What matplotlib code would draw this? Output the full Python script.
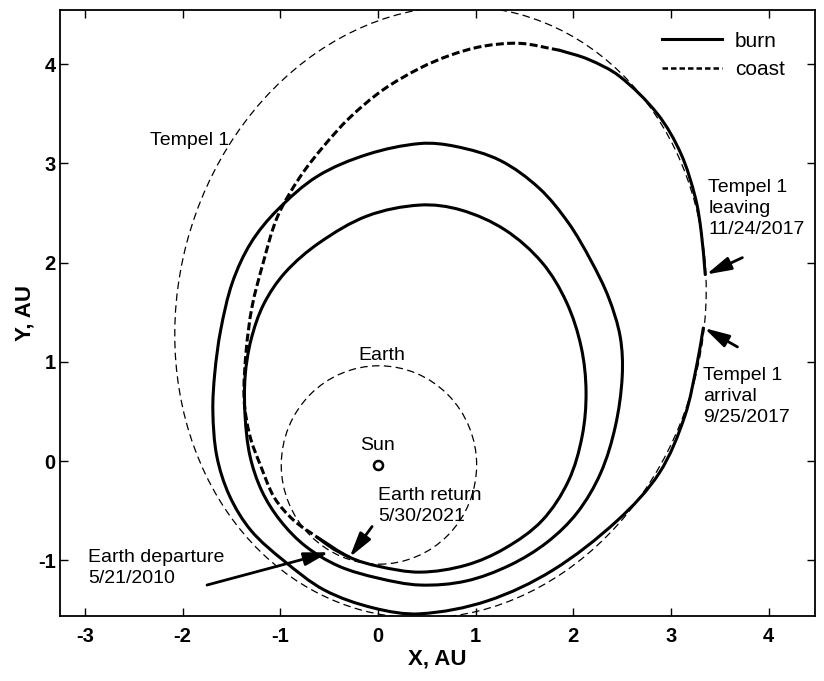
import numpy as np
import matplotlib
matplotlib.use("Agg")
import matplotlib.pyplot as plt
from matplotlib.path import Path
from matplotlib.patches import PathPatch, Ellipse, Circle
from matplotlib.lines import Line2D

plt.rcParams['font.family'] = ['Liberation Sans', 'DejaVu Sans']
plt.rcParams['axes.unicode_minus'] = False

# outbound spiral, Earth departure -> Tempel 1 arrival (burn)
burn_out_x = [-0.62, -0.29, 0.00, 0.43, 0.90, 1.30, 1.68, 1.95, 2.09, 2.13, 2.08, 1.93, 1.68, 1.30,
              0.85, 0.43, -0.11, -0.60, -0.95, -1.17, -1.30, -1.36, -1.36,
              -1.31, -1.19, -1.00, -0.74, -0.40, 0.00, 0.43, 0.90, 1.35, 1.73, 2.04, 2.28, 2.43, 2.50,
              2.48, 2.36, 2.18, 1.95, 1.65, 1.25, 0.80, 0.43, -0.11, -0.62, -1.03, -1.30, -1.49, -1.61,
              -1.67, -1.69, -1.65, -1.52, -1.30, -0.97, -0.55, -0.05, 0.43, 1.12, 1.79, 2.45, 2.88,
              3.14, 3.27, 3.33]
burn_out_y = [-0.77, -0.97, -1.06, -1.12, -1.05, -0.88, -0.60, -0.20, 0.25, 0.70, 1.15, 1.60, 2.00, 2.33,
              2.53, 2.58, 2.47, 2.20, 1.90, 1.58, 1.22, 0.85, 0.45,
              0.05, -0.30, -0.60, -0.86, -1.06, -1.18, -1.25, -1.21, -1.05, -0.82, -0.52, -0.12, 0.35, 0.85,
              1.25, 1.65, 2.02, 2.40, 2.75, 3.03, 3.17, 3.20, 3.09, 2.87, 2.53, 2.20, 1.80, 1.32,
              0.89, 0.50, 0.05, -0.35, -0.70, -1.00, -1.30, -1.48, -1.54, -1.41, -1.10, -0.60, -0.12,
              0.45, 1.00, 1.34]

# after leaving Tempel 1 (burn)
burn_leave_x = [3.35, 3.31, 3.25, 3.10, 2.86, 2.47, 2.15, 1.86]
burn_leave_y = [1.88, 2.30, 2.65, 3.10, 3.50, 3.88, 4.05, 4.14]

# long coast back towards Earth
coast_x = [1.86, 1.45, 1.07, 0.74, 0.43, 0.05, -0.29, -0.55, -0.80, -1.03, -1.18, -1.29, -1.35,
           -1.37, -1.31, -1.20, -1.06, -0.86, -0.62]
coast_y = [4.14, 4.21, 4.18, 4.09, 3.96, 3.74, 3.46, 3.18, 2.86, 2.46, 1.98, 1.55, 1.10,
           0.62, 0.25, -0.05, -0.37, -0.60, -0.77]

# final burn to Earth return
burn_ret_x = [-0.62, -0.45, -0.29]
burn_ret_y = [-0.77, -0.89, -0.97]

# planet / comet orbits
earth_center = (0.01, -0.04)
earth_radius = 1.0
tempel_center = (0.64, 1.50)
tempel_semi_axes = (3.11, 2.69)
tempel_tilt = 75.0
sun_xy = (0.0, -0.04)


def smooth_path(xs, ys):
    # cubic Bezier through the points, tangents from the neighbours
    pts = np.column_stack([xs, ys]).astype(float)
    n = len(pts)
    tang = np.zeros_like(pts)
    for i in range(n):
        d = pts[min(i + 1, n - 1)] - pts[max(i - 1, 0)]
        tang[i] = d / np.hypot(*d)
    verts = [pts[0]]
    codes = [Path.MOVETO]
    for i in range(n - 1):
        seg = np.hypot(*(pts[i + 1] - pts[i])) / 3.0
        verts += [pts[i] + tang[i] * seg, pts[i + 1] - tang[i + 1] * seg, pts[i + 1]]
        codes += [Path.CURVE4] * 3
    return Path(verts, codes)


fig = plt.figure(figsize=(8.24, 6.81), dpi=100)
ax = fig.add_axes([0.0728, 0.0954, 0.9162, 0.8899])

thin_dash = (0, (6, 3.5))
thick_dash = (0, (2.6, 1.1))

ax.add_patch(Circle(earth_center, earth_radius, fill=False, ec='black', lw=0.9,
                    ls=thin_dash, zorder=2))
ax.add_patch(Ellipse(tempel_center, 2 * tempel_semi_axes[0], 2 * tempel_semi_axes[1],
                     angle=tempel_tilt, fill=False, ec='black', lw=0.9, ls=thin_dash, zorder=2))

for xs, ys in [(burn_out_x, burn_out_y), (burn_leave_x, burn_leave_y), (burn_ret_x, burn_ret_y)]:
    ax.add_patch(PathPatch(smooth_path(xs, ys), fill=False, ec='black', lw=2.2, zorder=3,
                           capstyle='round'))
ax.add_patch(PathPatch(smooth_path(coast_x, coast_y), fill=False, ec='black', lw=2.2,
                       ls=thick_dash, zorder=3))

ax.plot(*sun_xy, 'o', ms=6.5, mfc='white', mec='black', mew=1.8, zorder=4)

# labels
txt = dict(fontsize=14, color='black')
ax.text(-2.33, 3.23, 'Tempel 1', va='center', ha='left', **txt)
ax.text(0.04, 1.06, 'Earth', va='center', ha='center', **txt)
ax.text(0.0, 0.16, 'Sun', va='center', ha='center', **txt)
ax.text(0.0, -0.26, 'Earth return\n5/30/2021', va='top', ha='left', linespacing=1.3, **txt)
ax.text(-2.97, -0.89, 'Earth departure\n5/21/2010', va='top', ha='left', linespacing=1.3, **txt)
ax.text(3.38, 2.84, 'Tempel 1\nleaving\n11/24/2017', va='top', ha='left', linespacing=1.3, **txt)
ax.text(3.33, 0.95, 'Tempel 1\narrival\n9/25/2017', va='top', ha='left', linespacing=1.3, **txt)

arrow = dict(arrowstyle='-|>,head_length=0.75,head_width=0.2', color='black', lw=2.0,
             mutation_scale=20, shrinkA=0, shrinkB=0)
ax.annotate('', xy=(-0.50, -0.92), xytext=(-1.75, -1.25), arrowprops=arrow, zorder=5)
ax.annotate('', xy=(-0.29, -0.97), xytext=(-0.06, -0.66), arrowprops=arrow, zorder=5)
ax.annotate('', xy=(3.36, 1.88), xytext=(3.73, 2.05), arrowprops=arrow, zorder=5)
ax.annotate('', xy=(3.34, 1.34), xytext=(3.68, 1.15), arrowprops=arrow, zorder=5)

handles = [Line2D([], [], color='black', lw=2.2, ls='-'),
           Line2D([], [], color='black', lw=1.8, ls=(0, (2.2, 1.2)))]
ax.legend(handles, ['burn', 'coast'], loc='upper right', bbox_to_anchor=(0.985, 0.995),
          frameon=False, fontsize=15, handlelength=2.9, handletextpad=0.6, labelspacing=0.45)

ax.set_xlim(-3.255, 4.473)
ax.set_ylim(-1.5625, 4.546)
ax.set_xticks(np.arange(-3, 5))
ax.set_yticks(np.arange(-1, 5))
ax.tick_params(direction='in', length=6, width=1.0, top=True, right=True, labelsize=14.5)
ax.tick_params(axis='x', pad=8)
ax.tick_params(axis='y', pad=3)
for lab in ax.get_xticklabels() + ax.get_yticklabels():
    lab.set_fontweight('bold')
for sp in ax.spines.values():
    sp.set_linewidth(1.3)
ax.set_xlabel('X, AU', fontsize=16, fontweight='bold', labelpad=2)
ax.set_ylabel('Y, AU', fontsize=16, fontweight='bold', labelpad=2)

fig.savefig('out.png', dpi=100)
